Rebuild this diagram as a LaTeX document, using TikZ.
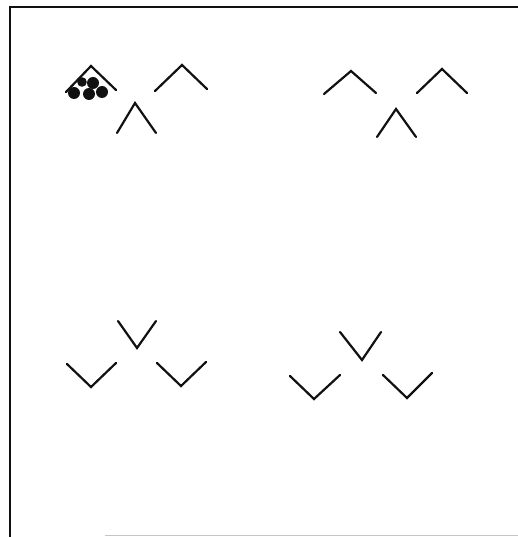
\documentclass[tikz,border=0pt]{standalone}
\usepackage{xcolor}
\usepackage{tikz}
\definecolor{scanblack}{HTML}{111111}
\definecolor{scangray}{HTML}{C4C4C4}

\begin{document}
\begin{tikzpicture}[x=1pt, y=-1pt,
    stroke/.style={draw=scanblack, line width=2.2pt, line cap=round, line join=miter},
    frame/.style={draw=scanblack, line width=2pt},
    ball/.style={fill=scanblack}]
  \useasboundingbox (0,0) rectangle (518,537);
  % frame
  \draw[frame] (10,537) -- (10,7) -- (518,7);
  \draw[scangray, line width=1pt] (105,535.5) -- (518,535.5);

  % top left group
  \draw[stroke] (66,92) -- (91,66) -- (116,90);
  \draw[stroke] (155,91) -- (182,65) -- (207,89);
  \draw[stroke] (117,133) -- (135,103) -- (156,133);
  \fill[ball] (82,82) circle (4.8);
  \fill[ball] (93,83) circle (6);
  \fill[ball] (74,93) circle (6);
  \fill[ball] (89,94) circle (6);
  \fill[ball] (102,92) circle (6);

  % top right group
  \draw[stroke] (324,94) -- (351,71) -- (376,93);
  \draw[stroke] (417,93) -- (442,69) -- (467,93);
  \draw[stroke] (377,137) -- (396,109) -- (416,137);

  % bottom left group
  \draw[stroke] (118,321) -- (137,348) -- (156,321);
  \draw[stroke] (67,364) -- (91,387) -- (116,363);
  \draw[stroke] (157,363) -- (181,386) -- (206,362);

  % bottom right group
  \draw[stroke] (340,332) -- (362,360) -- (381,332);
  \draw[stroke] (290,376) -- (314,399) -- (340,375);
  \draw[stroke] (383,375) -- (407,398) -- (432,373);
\end{tikzpicture}
\end{document}
